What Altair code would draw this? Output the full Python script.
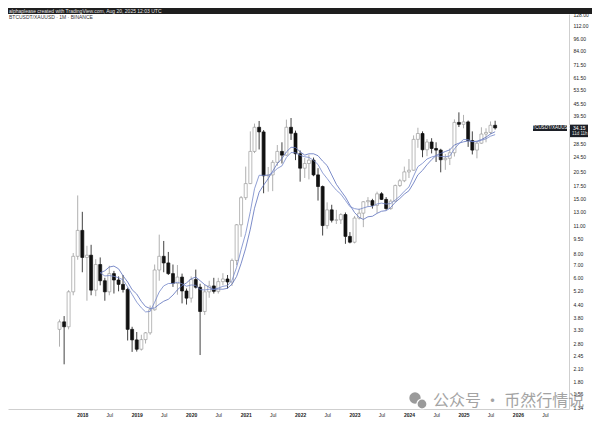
import altair as alt
import pandas as pd

# ---------------- data (BTCUSDT / XAUUSD, monthly) ----------------
dates = pd.date_range("2017-08-01", "2025-08-01", freq="MS").strftime("%Y-%m-%d").tolist()

opens = [
    3.30, 3.60, 3.40, 5.10, 7.70,
    10.4, 7.60, 7.80, 5.20, 7.00, 5.80, 5.10, 6.30, 5.85, 5.56, 5.24, 3.30,
    2.92, 2.62, 2.93, 3.17, 4.14, 6.57, 7.70, 7.13, 6.30, 5.63, 6.05, 5.15,
    4.74, 5.88, 5.38, 4.06, 5.10, 5.46, 5.13, 5.74, 5.92, 5.72, 7.34, 11.1,
    15.2, 17.9, 26.0, 34.4, 32.6, 19.6, 19.8, 22.9, 26.0, 24.9, 34.4, 32.1,
    25.3, 21.4, 22.6, 23.5, 19.8, 17.3, 11.0, 13.2, 11.7, 11.75, 12.5, 9.7,
    9.07, 12.0, 12.7, 14.5, 14.7, 13.9, 15.9, 14.9, 13.4, 14.6, 17.5, 18.5,
    20.5, 20.9, 29.9, 32.0, 26.5, 29.0, 26.9, 26.4, 23.6, 24.0, 25.6, 36.4,
    35.6, 36.6, 29.5, 26.4, 28.6, 31.8, 32.4, 35.2,
]
highs = [
    3.70, 3.85, 5.20, 8.00, 15.6,
    12.9, 8.70, 8.80, 7.45, 7.60, 6.00, 6.90, 6.50, 6.10, 6.20, 5.35, 3.40,
    3.20, 3.10, 3.20, 4.35, 7.00, 9.90, 9.20, 8.10, 7.00, 6.96, 6.30, 5.30,
    6.10, 6.60, 5.60, 5.55, 5.80, 6.00, 6.00, 6.33, 6.20, 7.50, 11.2, 15.5,
    21.8, 32.8, 35.9, 37.0, 33.3, 21.7, 23.5, 28.0, 28.9, 37.6, 38.3, 33.1,
    26.3, 24.1, 25.0, 24.2, 21.4, 17.5, 14.4, 14.0, 13.2, 12.7, 12.8, 10.2,
    12.3, 13.4, 14.6, 15.3, 15.0, 16.3, 16.2, 15.3, 14.9, 17.7, 18.9, 21.8,
    23.8, 31.3, 34.2, 32.8, 30.0, 30.3, 28.9, 26.8, 25.2, 26.9, 37.7, 40.9,
    39.7, 37.2, 32.8, 29.0, 34.4, 34.0, 36.8, 37.1,
]
lows = [
    2.70, 2.20, 3.30, 4.90, 7.40,
    6.40, 4.60, 4.90, 4.85, 5.50, 4.60, 4.90, 5.00, 5.13, 5.06, 2.90, 2.54,
    2.55, 2.58, 2.80, 3.10, 4.10, 5.80, 6.40, 6.20, 5.40, 4.93, 4.46, 4.40,
    4.50, 5.30, 2.45, 3.90, 4.76, 5.00, 5.00, 5.50, 5.30, 5.46, 6.95, 9.65,
    14.8, 17.8, 25.5, 26.6, 16.0, 16.3, 16.4, 22.0, 22.6, 24.7, 29.7, 23.5,
    18.3, 19.1, 18.8, 19.5, 14.7, 9.8, 10.6, 11.4, 11.2, 11.2, 8.9, 8.95,
    8.95, 11.8, 10.8, 13.7, 13.4, 12.7, 14.8, 13.2, 13.2, 14.5, 17.2, 18.2,
    19.1, 20.8, 27.1, 24.3, 24.6, 25.4, 23.0, 20.4, 21.0, 22.2, 24.5, 34.5,
    34.0, 27.4, 25.1, 24.0, 28.4, 28.9, 31.8, 33.5,
]
closes = [
    3.60, 3.40, 5.10, 7.70, 10.4,
    7.60, 7.80, 5.20, 7.00, 5.80, 5.10, 6.30, 5.85, 5.56, 5.24, 3.30, 2.92,
    2.62, 2.93, 3.17, 4.14, 6.57, 7.70, 7.13, 6.30, 5.63, 6.05, 5.15, 4.74,
    5.88, 5.38, 4.06, 5.10, 5.46, 5.13, 5.74, 5.92, 5.72, 7.34, 11.1, 15.2,
    17.9, 26.0, 34.4, 32.6, 19.6, 19.8, 22.9, 26.0, 24.9, 34.4, 32.1, 25.3,
    21.4, 22.6, 23.5, 19.8, 17.3, 11.0, 13.2, 11.7, 11.75, 12.5, 9.7, 9.07,
    12.0, 12.7, 14.5, 14.7, 13.9, 15.9, 14.9, 13.4, 14.6, 17.5, 18.5, 20.5,
    20.9, 29.9, 32.0, 26.5, 29.0, 26.9, 26.4, 23.6, 24.0, 25.6, 36.4, 35.6,
    36.6, 29.5, 26.4, 28.6, 31.8, 32.4, 35.2, 34.15,
]
assert len(dates) == len(opens) == len(highs) == len(lows) == len(closes)

y_ticks = [1.34, 1.56, 1.80, 2.10, 2.45, 2.80, 3.30, 3.80, 4.40, 5.20, 6.00, 7.00,
           8.00, 9.50, 11.00, 13.00, 15.00, 17.50, 20.50, 24.50, 28.50, 39.50,
           45.50, 53.50, 61.50, 71.50, 84.00, 96.00, 112.00, 128.00]
tick_years = list(range(2018, 2027))
ma_length = 10

header_text = "alphaplease created with TradingView.com, Aug 20, 2025 12:03 UTC"
symbol_text = "BTCUSDT/XAUUSD · 1M · BINANCE"
watermark_text = "公众号 · 币然行情说"
countdown_text = "11d 11h"

# ---------------- indicators (10-period SMA and EMA of closes) ----------------
close_s = pd.Series(closes, dtype=float)
sma = close_s.rolling(ma_length).mean()
alpha = 2.0 / (ma_length + 1)
ema = [None] * len(closes)
ema[ma_length - 1] = float(sma[ma_length - 1])
for i in range(ma_length, len(closes)):
    ema[i] = alpha * closes[i] + (1 - alpha) * ema[i - 1]

df = pd.DataFrame({
    "date": dates, "open": opens, "high": highs, "low": lows, "close": closes,
    "sma": sma, "ema": ema,
})
df["dir"] = ["up" if c >= o else "down" for o, c in zip(opens, closes)]
df["top"] = [max(o, c) for o, c in zip(opens, closes)]
df["bot"] = [min(o, c) for o, c in zip(opens, closes)]
df["ema"] = df["ema"].astype(float)
last_df = df.tail(1).copy()
last_df["label"] = [f"{v:.2f}" for v in last_df["close"]]

# ---------------- layout ----------------
FONT = "Liberation Sans"
W, H = 561, 395
UP = "#9c9c9c"
DOWN = "#111111"

xscale = alt.Scale(type="utc", domain=[
    alt.DateTime(year=2016, month=9, date=23, utc=True),
    alt.DateTime(year=2026, month=11, date=6, utc=True),
])
yscale = alt.Scale(type="log", domain=[1.31, 128], nice=False)

xaxis = alt.Axis(
    values=[alt.DateTime(year=y, month=m, date=1, utc=True) for y in tick_years for m in (1, 7)],
    labelExpr="utcmonth(datum.value) == 0 ? utcFormat(datum.value, '%Y') : 'Jul'",
    labelFontWeight={"condition": {"test": "utcmonth(datum.value) == 0", "value": "bold"}, "value": "normal"},
    title=None, grid=False, ticks=False, domainColor="#cfcfcf", domainWidth=1,
    labelFont=FONT, labelFontSize=5, labelColor="#222222", labelPadding=3,
    labelOverlap=False, labelFlush=False,
)
yaxis = alt.Axis(
    orient="right", values=y_ticks, format=".2f", title=None, grid=False, ticks=False,
    domainColor="#cfcfcf", domainWidth=1, labelFont=FONT, labelFontSize=5,
    labelColor="#222222", labelPadding=4, labelOverlap=False, labelFlush=False,
)

base = alt.Chart(df)
x_enc = alt.X("date:T", scale=xscale, axis=xaxis)

wicks = base.mark_rule(strokeWidth=0.8).encode(
    x=x_enc,
    y=alt.Y("low:Q", scale=yscale, axis=yaxis),
    y2="high:Q",
    color=alt.Color("dir:N", scale=alt.Scale(domain=["up", "down"], range=[UP, DOWN]), legend=None),
)
bodies = base.mark_bar(size=3, strokeWidth=0.7).encode(
    x=x_enc,
    y=alt.Y("bot:Q", scale=yscale, axis=yaxis),
    y2="top:Q",
    fill=alt.Fill("dir:N", scale=alt.Scale(domain=["up", "down"], range=["#ffffff", DOWN]), legend=None),
    stroke=alt.Stroke("dir:N", scale=alt.Scale(domain=["up", "down"], range=[UP, DOWN]), legend=None),
)
sma_line = base.mark_line(strokeWidth=0.8, color="#5a6fbb").transform_filter(
    "isValid(datum.sma)").encode(x=x_enc, y=alt.Y("sma:Q", scale=yscale, axis=yaxis))
ema_line = base.mark_line(strokeWidth=0.8, color="#7486c9").transform_filter(
    "isValid(datum.ema)").encode(x=x_enc, y=alt.Y("ema:Q", scale=yscale, axis=yaxis))

# header / title
one = pd.DataFrame({"t": [header_text]})
header_bar = alt.Chart(one).mark_rect(color="#1e1e1e").encode(
    x=alt.value(0), x2=alt.value(584), y=alt.value(-6), y2=alt.value(0))
header_txt = alt.Chart(one).mark_text(
    align="left", baseline="middle", font=FONT, fontSize=5, color="#e6e6e6"
).encode(x=alt.value(1), y=alt.value(-3), text="t:N")
symbol = alt.Chart(pd.DataFrame({"t": [symbol_text]})).mark_text(
    align="left", baseline="middle", font=FONT, fontSize=5, color="#333333"
).encode(x=alt.value(1), y=alt.value(3), text="t:N")

# last price tags
lb = alt.Chart(last_df)
y_last = alt.Y("close:Q", scale=yscale, axis=yaxis)
tag_left = lb.mark_rule(color="#1c1f26", strokeWidth=6).encode(
    x=alt.value(525), x2=alt.value(559), y=y_last)
tag_left_txt = lb.mark_text(
    align="center", baseline="middle", font=FONT, fontSize=4.5, color="#ffffff"
).encode(x=alt.value(542), y=y_last, text=alt.value("BTCUSDT/XAUUSD"))
tag_right = lb.mark_rule(color="#1c1f26", strokeWidth=12.5, yOffset=3).encode(
    x=alt.value(562), x2=alt.value(580), y=y_last)
tag_right_px = lb.mark_text(
    align="left", baseline="middle", font=FONT, fontSize=5, color="#ffffff"
).encode(x=alt.value(565), y=y_last, text="label:N")
tag_right_cd = lb.mark_text(
    align="left", baseline="middle", font=FONT, fontSize=4.5, color="#e0e0e0", yOffset=6
).encode(x=alt.value(564), y=y_last, text=alt.value(countdown_text))

# watermark
wm = alt.Chart(pd.DataFrame({"t": [watermark_text]}))
wm_txt = wm.mark_text(
    align="left", baseline="middle", font="Noto Sans CJK SC", fontSize=16,
    color="#9a9a9a", opacity=0.9
).encode(x=alt.value(425), y=alt.value(387), text="t:N")
wm_icon1 = wm.mark_point(shape="circle", filled=True, size=130, color="#9a9a9a", opacity=1).encode(
    x=alt.value(407), y=alt.value(384))
wm_icon2 = wm.mark_point(shape="circle", filled=True, size=100, fill="#9a9a9a",
                         stroke="#ffffff", strokeWidth=1.2, opacity=1).encode(
    x=alt.value(414), y=alt.value(390))

chart = alt.layer(
    wicks, bodies, sma_line, ema_line,
    header_bar, header_txt, symbol,
    tag_left, tag_left_txt, tag_right, tag_right_px, tag_right_cd,
    wm_icon1, wm_icon2, wm_txt,
).properties(
    width=W, height=H,
    autosize=alt.AutoSizeParams(type="none"),
    padding={"left": 0, "top": 6, "right": 23, "bottom": 9},
    background="#ffffff",
).configure_view(stroke=None)

chart.save("out.html", embed_options={"renderer": "svg", "actions": False})
